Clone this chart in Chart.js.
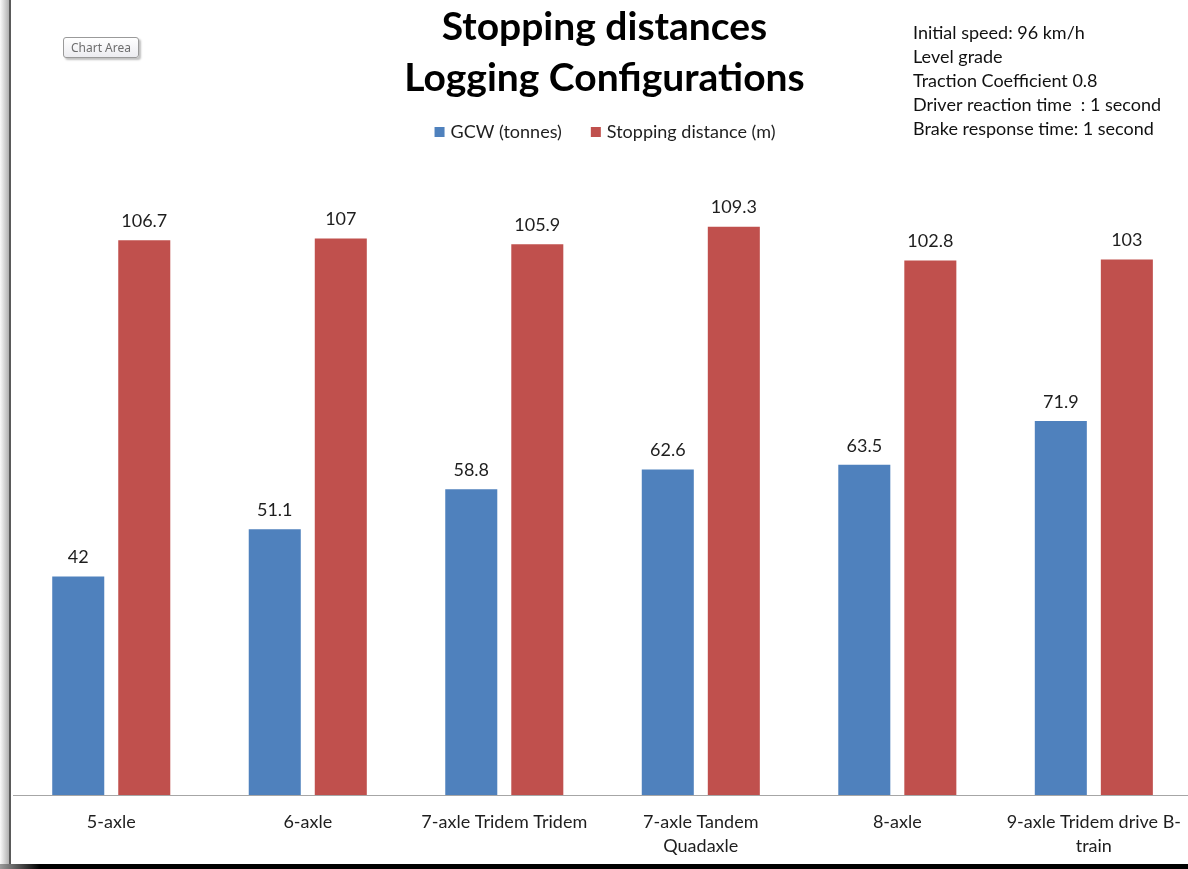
<!DOCTYPE html>
<html>
<head>
<meta charset="utf-8">
<title>Stopping distances - Logging Configurations</title>
<script src="https://cdn.jsdelivr.net/npm/chart.js@4.4.1/dist/chart.umd.min.js"></script>
<style>
    html, body { margin: 0; padding: 0; background: #fff; overflow: hidden; }
    body { width: 1188px; height: 869px; position: relative; }
    .chart-box { position: absolute; left: 0; top: 0; width: 1196px; height: 873px; }
    /* window frame: shaded left edge and dark bottom band */
    .edge-left { position: absolute; left: 0; top: 0; width: 9px; height: 869px;
        background: linear-gradient(to right, #fafafa, #b0b0b0); }
    .edge-line { position: absolute; left: 9px; top: 0; width: 2px; height: 869px; background: #5a5a5a; }
    .edge-bottom { position: absolute; left: 0; top: 864px; width: 1188px; height: 5px;
        background: linear-gradient(to right, #9a9a9a, #000 40px); }
    .chart-area-tip { position: absolute; left: 63px; top: 37px; width: 76px; height: 21px;
        border: 1px solid #9a9a9a; border-radius: 3px; box-sizing: border-box;
        background: linear-gradient(#ffffff, #ececf0); box-shadow: 2px 2px 2px rgba(0,0,0,0.25);
        font: 12px "Noto Sans", sans-serif; color: #6d6d6d; line-height: 19px; text-align: center; }
</style>
</head>
<body>
<div class="chart-box"><canvas id="chart"></canvas></div>
<div class="edge-left"></div>
<div class="edge-line"></div>
<div class="edge-bottom"></div>
<div class="chart-area-tip">Chart Area</div>

<script>
// Chart data
const categories = ['5-axle', '6-axle', '7-axle Tridem Tridem', ['7-axle Tandem', 'Quadaxle'], '8-axle', ['9-axle Tridem drive B-', 'train']];
const gcwTonnes = [42, 51.1, 58.8, 62.6, 63.5, 71.9];
const stoppingDistance = [106.7, 107, 105.9, 109.3, 102.8, 103];
const seriesNames = ['GCW (tonnes)', 'Stopping distance (m)'];
const titleLines = ['Stopping distances', 'Logging Configurations'];
const notes = [
    'Initial speed: 96 km/h',
    'Level grade',
    'Traction Coefficient 0.8',
    'Driver reaction time  : 1 second',
    'Brake response time: 1 second'
];

const BLUE = '#4F81BD';
const RED = '#C0504D';
const FONT = 'Lato, "Noto Sans", sans-serif';
const TEXT_SIZE = 18;

// Value labels above each bar
const barValueLabels = {
    id: 'barValueLabels',
    afterDatasetsDraw(chart) {
        const ctx = chart.ctx;
        ctx.save();
        ctx.font = TEXT_SIZE + 'px ' + FONT;
        ctx.fillStyle = '#1e1e1e';
        ctx.textAlign = 'center';
        ctx.textBaseline = 'middle';
        chart.data.datasets.forEach((ds, i) => {
            chart.getDatasetMeta(i).data.forEach((bar, j) => {
                ctx.fillText(String(ds.data[j]), bar.x, bar.y - 19);
            });
        });
        ctx.restore();
    }
};

// Legend drawn Excel-style: small squares, wide gap between entries
const squareLegend = {
    id: 'squareLegend',
    afterDraw(chart) {
        const ctx = chart.ctx;
        ctx.save();
        ctx.font = TEXT_SIZE + 'px ' + FONT;
        ctx.textBaseline = 'middle';
        const box = 10, gap = 6, spacing = 29;
        const widths = chart.data.datasets.map(ds => ctx.measureText(ds.label).width);
        const total = widths.reduce((s, w) => s + box + gap + w, 0) + spacing * (widths.length - 1);
        let x = 605 - total / 2;
        const y = 132;
        chart.data.datasets.forEach((ds, i) => {
            ctx.fillStyle = ds.backgroundColor;
            ctx.fillRect(x, y - box / 2, box, box);
            ctx.fillStyle = '#1e1e1e';
            ctx.fillText(ds.label, x + box + gap, y);
            x += box + gap + widths[i] + spacing;
        });
        ctx.restore();
    }
};

// Test conditions text box, top right
const notesBox = {
    id: 'notesBox',
    afterDraw(chart) {
        const ctx = chart.ctx;
        ctx.save();
        ctx.font = TEXT_SIZE + 'px ' + FONT;
        ctx.fillStyle = '#111';
        ctx.textAlign = 'left';
        ctx.textBaseline = 'middle';
        notes.forEach((line, i) => ctx.fillText(line, 913, 33 + i * 24));
        ctx.restore();
    }
};

new Chart(document.getElementById('chart'), {
    type: 'bar',
    data: {
        labels: categories,
        datasets: [
            { label: seriesNames[0], data: gcwTonnes, backgroundColor: BLUE },
            { label: seriesNames[1], data: stoppingDistance, backgroundColor: RED }
        ]
    },
    options: {
        responsive: true,
        maintainAspectRatio: false,
        animation: false,
        events: [],
        layout: { padding: { left: 13, right: 0, top: 0, bottom: 0 } },
        datasets: {
            bar: { categoryPercentage: 0.672, barPercentage: 0.788 }
        },
        plugins: {
            legend: { display: false },
            tooltip: { enabled: false },
            title: {
                display: true,
                text: titleLines,
                color: '#000',
                // 39px at lineHeight 51/39 keeps the two lines 51px apart
                font: { family: FONT, size: 39, weight: 'bold', lineHeight: 51 / 39 },
                padding: { top: 1.5, bottom: 67.5 }
            }
        },
        scales: {
            x: {
                grid: { display: false, drawTicks: false },
                border: { display: true, color: '#a6a6a6', width: 1 },
                ticks: {
                    color: '#1e1e1e',
                    padding: 15,
                    maxRotation: 0,
                    autoSkip: false,
                    font: { family: FONT, size: TEXT_SIZE, lineHeight: 24 / TEXT_SIZE }
                }
            },
            y: {
                display: false,
                min: 0,
                max: 120
            }
        }
    },
    plugins: [barValueLabels, squareLegend, notesBox]
});
</script>
</body>
</html>
